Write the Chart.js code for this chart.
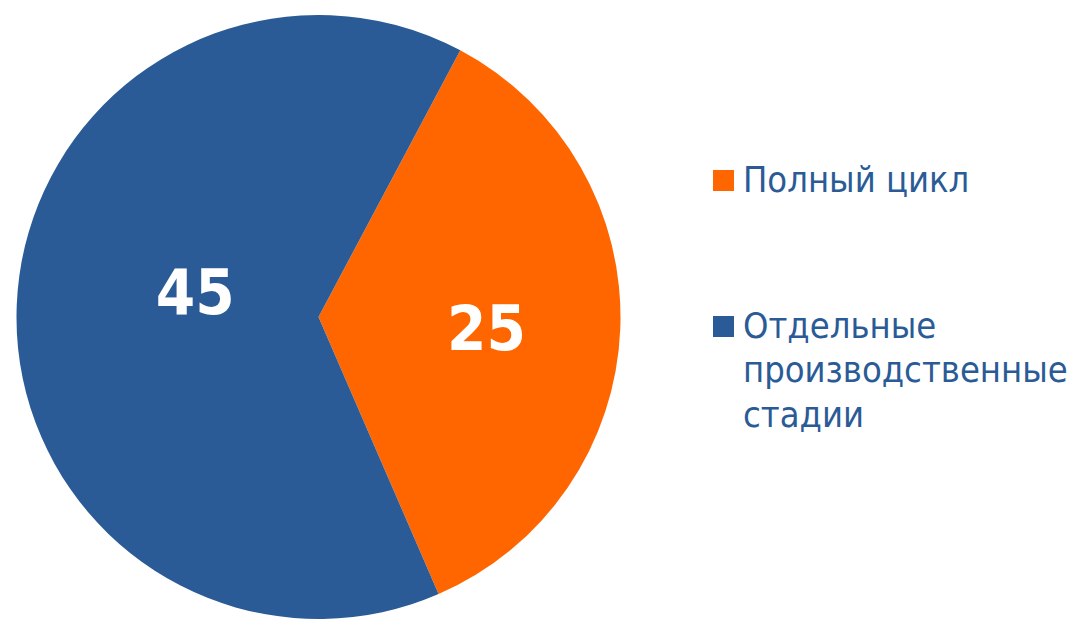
<!DOCTYPE html>
<html>
<head>
<meta charset="utf-8">
<script src="https://cdn.jsdelivr.net/npm/chart.js@4/dist/chart.umd.min.js"></script>
<style>
  html, body { margin: 0; padding: 0; background: #ffffff; }
  body { width: 1076px; height: 620px; position: relative; overflow: hidden; }
  #wrap { position: absolute; left: 16px; top: 15px; width: 605px; height: 604px; }
  #legend { position: absolute; left: 713px; top: 158px; width: 360px;
            font-family: "DejaVu Sans Condensed", "DejaVu Sans", sans-serif; font-size: 36px;
            line-height: 44.5px; color: #2A5B96; }
  .item { position: relative; padding-left: 30px; margin-bottom: 101px; }
  .sw { position: absolute; left: 0; top: 12px; width: 21px; height: 21px; }
</style>
</head>
<body>
<div id="wrap"><canvas id="c"></canvas></div>
<div id="legend"></div>
<script>
const categories = ["Полный цикл", "Отдельные производственные стадии"];
const values = [25, 45];
const colors = ["#FF6600", "#2A5B96"];

// per-slice label placement (fraction of radius, angular shift in degrees)
const labelPlacement = [{ frac: 0.557, shift: 1 }, { frac: 0.417, shift: 9.5 }];

const valueLabels = {
  id: 'valueLabels',
  afterDatasetsDraw(chart) {
    const ctx = chart.ctx;
    const meta = chart.getDatasetMeta(0);
    const size = 63;
    ctx.save();
    ctx.fillStyle = '#ffffff';
    ctx.font = 'bold ' + size + 'px "DejaVu Sans Condensed", "DejaVu Sans", sans-serif';
    ctx.textAlign = 'center';
    ctx.textBaseline = 'alphabetic';
    meta.data.forEach((arc, i) => {
      const p = arc.getProps(['x', 'y', 'startAngle', 'endAngle', 'outerRadius'], true);
      const pl = labelPlacement[i];
      const a = (p.startAngle + p.endAngle) / 2 + pl.shift * Math.PI / 180;
      const r = p.outerRadius * pl.frac;
      ctx.fillText(String(chart.data.datasets[0].data[i]),
        p.x + Math.cos(a) * r, p.y + Math.sin(a) * r + size * 0.729 / 2);
    });
    ctx.restore();
  }
};

new Chart(document.getElementById('c'), {
  type: 'pie',
  data: {
    labels: categories,
    datasets: [{ data: values, backgroundColor: colors, borderWidth: 0 }]
  },
  options: {
    responsive: true,
    maintainAspectRatio: false,
    animation: false,
    rotation: 28,
    layout: { padding: 0 },
    plugins: { legend: { display: false }, tooltip: { enabled: false } }
  },
  plugins: [valueLabels]
});

const legend = document.getElementById('legend');
categories.forEach((c, i) => {
  const item = document.createElement('div');
  item.className = 'item';
  const sw = document.createElement('span');
  sw.className = 'sw';
  sw.style.background = colors[i];
  item.appendChild(sw);
  item.appendChild(document.createTextNode(c));
  legend.appendChild(item);
});
</script>
</body>
</html>
